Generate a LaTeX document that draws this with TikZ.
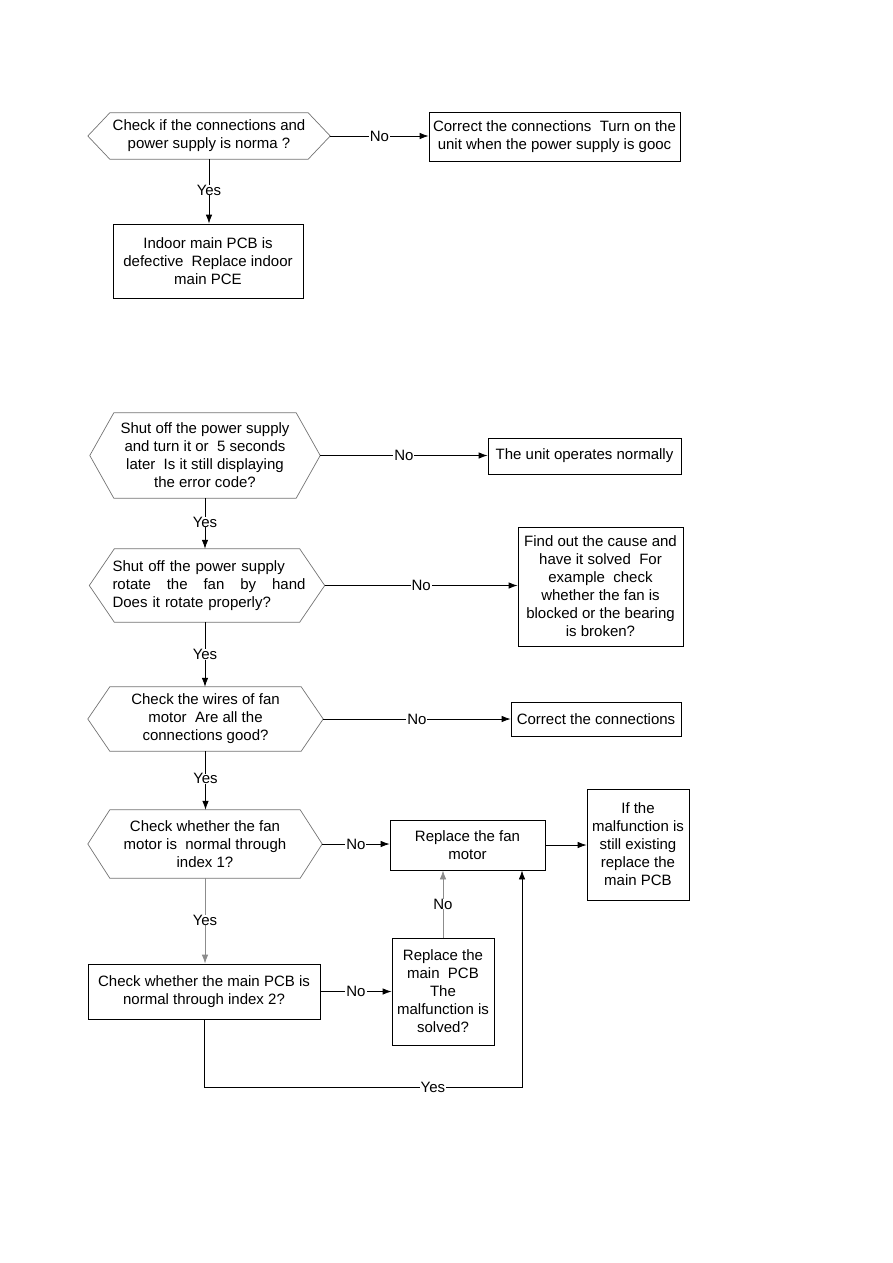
\documentclass[tikz,border=0pt]{standalone}
\usepackage{fontspec}
\setmainfont{Liberation Sans}
\usetikzlibrary{arrows.meta}
\newcommand\hexdraw[2]{\draw[hexline] (#1.west) -- ([xshift=#2]#1.north west) -- ([xshift=-#2]#1.north east) -- (#1.east) -- ([xshift=-#2]#1.south east) -- ([xshift=#2]#1.south west) -- cycle;}
\begin{document}
\begin{tikzpicture}[x=1pt,y=-1pt,
  txt/.style={font=\fontsize{15}{18}\selectfont, align=center, inner sep=0pt, text=black},
  box/.style={txt, draw=black, line width=0.8pt},
  hexnode/.style={txt},
  hexline/.style={draw=black!55, line width=0.7pt},
  conn/.style={draw=black, line width=0.8pt},
  arr/.style={conn, -{Latex[length=9pt,width=6.5pt]}},
  grayarr/.style={arr, draw=black!45},
  lbl/.style={txt, fill=white, inner xsep=1pt, inner ysep=0pt}]
\useasboundingbox (0,0) rectangle (893,1263);

% top part
\node[hexnode, minimum width=242pt, minimum height=46pt] (h1) at (209,136) {Check if the connections and\\power supply is norma ?};
\hexdraw{h1}{22pt}
\node[box, minimum width=251pt, minimum height=49pt] (b1) at (554.5,136.5) {Correct the connections\ \ Turn on the\\unit when the power supply is gooc};
\node[box, minimum width=190pt, minimum height=74pt] (b2) at (208,261) {Indoor main PCB is\\defective\ \ Replace indoor\\main PCE};

\draw[arr] (h1.east) -- node[lbl]{No} (h1.east -| b1.west);
\draw[arr] (h1.south) -- node[lbl, pos=0.48]{Yes} (h1.south |- b2.north);

% bottom part
\node[hexnode, minimum width=230pt, minimum height=85pt] (h2) at (205,455.5) {Shut off the power supply\\and turn it or\ \ 5 seconds\\later\ \ Is it still displaying\\the error code?};
\hexdraw{h2}{24pt}
\node[box, minimum width=193pt, minimum height=36pt] (b3) at (584.5,456) {The unit operates normally};

\node[hexnode, minimum width=235pt, minimum height=73pt, text width=197pt, align=left] (h3) at (207,585.5) {\hspace*{4pt}Shut off the power supply\\\hspace*{4pt}\makebox[193pt][l]{rotate\hfill the\hfill fan\hfill by\hfill hand}\\\hspace*{4pt}Does it rotate properly?};
\hexdraw{h3}{25pt}
\node[box, minimum width=165pt, minimum height=119pt] (b4) at (600.5,586.5) {Find out the cause and\\have it solved\ \ For\\example\ \ check\\whether the fan is\\blocked or the bearing\\is broken?};

\node[hexnode, minimum width=235pt, minimum height=64pt] (h4) at (205.5,719) {Check the wires of fan\\motor\ \ Are all the\\connections good?};
\hexdraw{h4}{22pt}
\node[box, minimum width=170pt, minimum height=34pt] (b5) at (596,719) {Correct the connections};

\node[hexnode, minimum width=234pt, minimum height=68pt] (h5) at (205,844) {Check whether the fan\\motor is\ \ normal through\\index 1?};
\hexdraw{h5}{22pt}
\node[box, minimum width=155pt, minimum height=50pt] (b6) at (467.5,845) {Replace the fan\\motor};
\node[box, minimum width=102pt, minimum height=111pt] (b7) at (638,844.5) {If the\\malfunction is\\still existing\\replace the\\main PCB};

\node[box, minimum width=232pt, minimum height=55pt] (b8) at (204,991.5) {Check whether the main PCB is\\normal through index 2?};
\node[box, minimum width=102pt, minimum height=107pt] (b9) at (443,991.5) {Replace the\\main\ \ PCB\\The\\malfunction is\\solved?};

\coordinate (ycorner1) at (204,1087);
\coordinate (ycorner2) at (522,1087);

\draw[arr] (h2.east) -- node[lbl]{No} (h2.east -| b3.west);
\draw[arr] (h2.south) -- node[lbl, pos=0.47]{Yes} (h2.south |- h3.north);
\draw[arr] (h3.east) -- node[lbl]{No} (h3.east -| b4.west);
\draw[arr] (h3.south -| h2.south) -- node[lbl, pos=0.5]{Yes} (h2.south |- h4.north);
\draw[arr] (h4.east) -- node[lbl]{No} (h4.east -| b5.west);
\draw[arr] (h4.south) -- node[lbl, pos=0.47]{Yes} (h4.south |- h5.north);
\draw[arr] (h5.east) -- node[lbl]{No} (h5.east -| b6.west);
\draw[arr] (b6.east) -- (b6.east -| b7.west);
\draw[grayarr] (h5.south) -- node[lbl, pos=0.49]{Yes} (h5.south |- b8.north);
\draw[arr] (b8.east) -- node[lbl]{No} (b8.east -| b9.west);
\draw[grayarr] (b9.north) -- node[lbl]{No} (b9.north |- b6.south);
\draw[arr] (b8.south) -- (ycorner1) -- node[lbl, pos=0.72]{Yes} (ycorner2) -- (ycorner2 |- b6.south);
\end{tikzpicture}
\end{document}
